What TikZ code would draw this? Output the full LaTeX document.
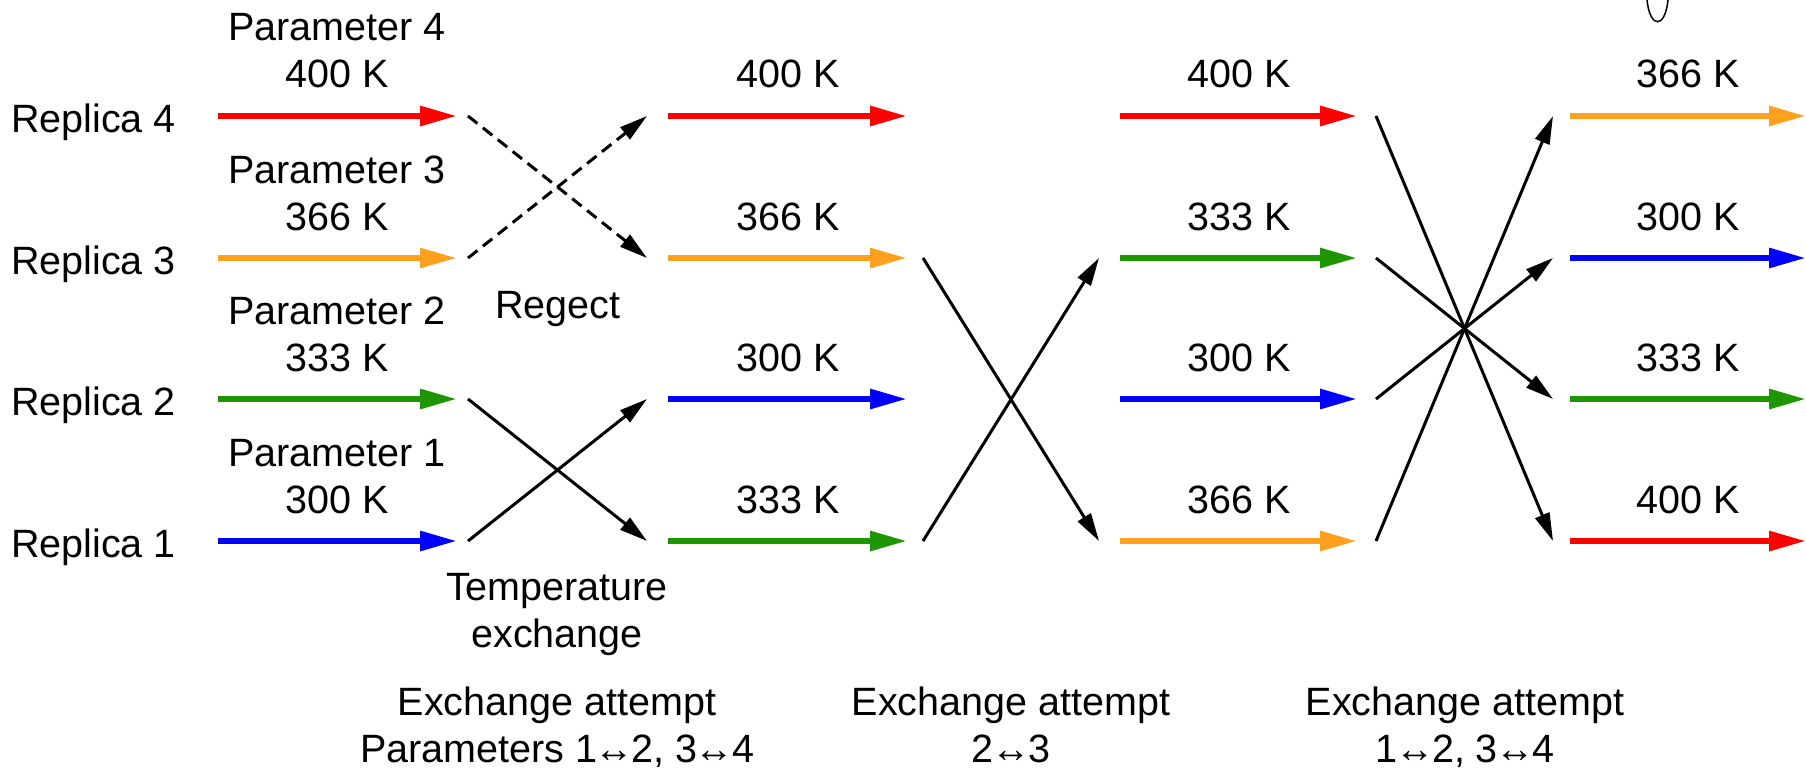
\documentclass[tikz,border=0pt]{standalone}
\usepackage{fontspec}
\setmainfont{Liberation Sans}
\usetikzlibrary{arrows.meta}
\definecolor{cred}{RGB}{255,0,0}
\definecolor{corange}{RGB}{255,160,30}
\definecolor{cgreen}{RGB}{30,150,0}
\definecolor{cblue}{RGB}{0,0,255}
\newcommand{\lrarr}{\kern-2.5pt↔\kern-2.5pt}
\tikzset{
  lbl/.style={font=\fontsize{39.5}{47}\selectfont, inner sep=0pt, anchor=base},
  rlbl/.style={lbl, anchor=base west},
  tarrow/.style={line width=6pt, -{Triangle[length=37pt,width=19pt]}},
  xarrow/.style={line width=3pt, -{Triangle[length=28pt,width=15pt]}},
  rejarrow/.style={xarrow, dash pattern=on 12pt off 7pt},
}
\begin{document}
\begin{tikzpicture}[x=1pt,y=-1pt]
\useasboundingbox (0,0) rectangle (1806,768);
% endpoints of the coloured arrows
\foreach \c/\s/\e in {1/218/457,2/668/907,3/1120/1357,4/1570/1806}{
  \foreach \r/\y in {1/541,2/399,3/258,4/116}{
    \coordinate (a\c s\r) at (\s,\y);
    \coordinate (a\c e\r) at (\e,\y);
  }
}
% endpoints of the exchange arrows
\foreach \k/\s/\e in {1/468/647,2/923/1099,3/1376/1553}{
  \foreach \r/\y in {1/541,2/399,3/258,4/116}{
    \coordinate (x\k s\r) at (\s,\y);
    \coordinate (x\k e\r) at (\e,\y);
  }
}
% replica labels
\node[rlbl] (rep4) at (11,132) {Replica 4};
\node[rlbl] (rep3) at (11,274) {Replica 3};
\node[rlbl] (rep2) at (11,415) {Replica 2};
\node[rlbl] (rep1) at (11,557) {Replica 1};
% column 1
\draw[tarrow, cred]    (a1s4) -- (a1e4);
\draw[tarrow, corange] (a1s3) -- (a1e3);
\draw[tarrow, cgreen]  (a1s2) -- (a1e2);
\draw[tarrow, cblue]   (a1s1) -- (a1e1);
\node[lbl] (p4) at (337,41) {Parameter 4};
\node[lbl] (k14) at (337,88) {400 K};
\node[lbl] (p3) at (337,183) {Parameter 3};
\node[lbl] (k13) at (337,230) {366 K};
\node[lbl] (p2) at (337,324) {Parameter 2};
\node[lbl] (k12) at (337,371) {333 K};
\node[lbl] (p1) at (337,466) {Parameter 1};
\node[lbl] (k11) at (337,513) {300 K};
% cross 1
\draw[rejarrow] (x1s4) -- (x1e3);
\draw[rejarrow] (x1s3) -- (x1e4);
\draw[xarrow] (x1s2) -- (x1e1);
\draw[xarrow] (x1s1) -- (x1e2);
\node[lbl] (rej) at (558,318) {Regect};
\node[lbl] (te1) at (557,600) {Temperature};
\node[lbl] (te2) at (557,647) {exchange};
% column 2
\draw[tarrow, cred]    (a2s4) -- (a2e4);
\draw[tarrow, corange] (a2s3) -- (a2e3);
\draw[tarrow, cblue]   (a2s2) -- (a2e2);
\draw[tarrow, cgreen]  (a2s1) -- (a2e1);
\node[lbl] (k24) at (788,88) {400 K};
\node[lbl] (k23) at (788,230) {366 K};
\node[lbl] (k22) at (788,371) {300 K};
\node[lbl] (k21) at (788,513) {333 K};
% cross 2
\draw[xarrow] (x2s3) -- (x2e1);
\draw[xarrow] (x2s1) -- (x2e3);
% column 3
\draw[tarrow, cred]    (a3s4) -- (a3e4);
\draw[tarrow, cgreen]  (a3s3) -- (a3e3);
\draw[tarrow, cblue]   (a3s2) -- (a3e2);
\draw[tarrow, corange] (a3s1) -- (a3e1);
\node[lbl] (k34) at (1239,88) {400 K};
\node[lbl] (k33) at (1239,230) {333 K};
\node[lbl] (k32) at (1239,371) {300 K};
\node[lbl] (k31) at (1239,513) {366 K};
% cross 3
\draw[xarrow] (x3s4) -- (x3e1);
\draw[xarrow] (x3s1) -- (x3e4);
\draw[xarrow] (x3s3) -- (x3e2);
\draw[xarrow] (x3s2) -- (x3e3);
% column 4
\draw[tarrow, corange] (a4s4) -- (a4e4);
\draw[tarrow, cblue]   (a4s3) -- (a4e3);
\draw[tarrow, cgreen]  (a4s2) -- (a4e2);
\draw[tarrow, cred]    (a4s1) -- (a4e1);
\node[lbl] (k44) at (1688,88) {366 K};
\node[lbl] (k43) at (1688,230) {300 K};
\node[lbl] (k42) at (1688,371) {333 K};
\node[lbl] (k41) at (1688,513) {400 K};
% bottom captions
\node[lbl] (ea1) at (557,715) {Exchange attempt};
\node[lbl] (eb1) at (557,762) {Parameters 1\lrarr2, 3\lrarr4};
\node[lbl] (ea2) at (1011,715) {Exchange attempt};
\node[lbl] (eb2) at (1011,762) {2\lrarr3};
\node[lbl] (ea3) at (1465,715) {Exchange attempt};
\node[lbl] (eb3) at (1465,762) {1\lrarr2, 3\lrarr4};
% small curve at the top edge
\draw[line width=1.5pt] (1647,0) .. controls (1650,29) and (1665,29) .. (1668,0);
\end{tikzpicture}
\end{document}
